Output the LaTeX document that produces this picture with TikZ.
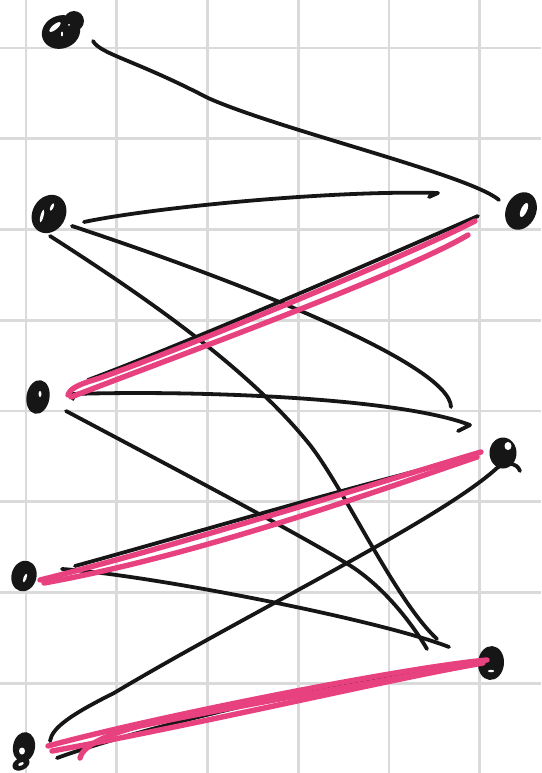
\documentclass[tikz,border=0pt]{standalone}
\definecolor{ink}{HTML}{161616}
\definecolor{marker}{HTML}{E8417F}
\definecolor{paperline}{HTML}{DADADA}
\usepackage{tikz}
\usetikzlibrary{shapes.geometric,calc}
\tikzset{
  vertex/.style={
    ellipse, fill=ink, inner sep=0pt
  },
  hole/.style={
    ellipse, fill=white, inner sep=0pt
  },
  link/.style={draw=ink, line width=3.8pt, line cap=round, line join=round},
  match/.style={draw=marker, line width=5.4pt, line cap=round, line join=round},
  gridline/.style={draw=paperline, line width=2.6pt},
}

\begin{document}
\begin{tikzpicture}[x=1pt, y=-1pt]

  \useasboundingbox (0,0) rectangle (541,773);
  \fill[white] (0,0) rectangle (541,773);

  % squared paper
  \foreach \k in {0,...,5}
    \draw[gridline] ({26+90.75*\k},0) -- ({26+90.75*\k},773);
  \foreach \k in {0,...,8}
    \draw[gridline] (0,{48+90.75*\k}) -- (541,{48+90.75*\k});

  % left vertices
  \node[vertex, minimum width=39pt, minimum height=33pt, rotate=20] (l1) at (61,32) {};
  \fill[ink] (74,21) circle (10pt);
  \node[hole, minimum width=14pt, minimum height=5pt, rotate=40] (l1a) at (55,27) {};
  \node[hole, minimum width=2pt, minimum height=5pt] (l1b) at (62,34) {};
  \node[hole, minimum width=2pt, minimum height=2pt] (l1c) at (69,25) {};

  \node[vertex, minimum width=33pt, minimum height=40pt, rotate=-30] (l2) at (49,214) {};
  \node[hole, minimum width=3pt, minimum height=13pt, rotate=-15] (l2a) at (42,216) {};
  \node[hole, minimum width=3pt, minimum height=8pt, rotate=-25] (l2b) at (52,207) {};

  \node[vertex, minimum width=23pt, minimum height=34pt, rotate=-10] (l3) at (38,397) {};
  \node[hole, minimum width=3pt, minimum height=6pt] (l3a) at (40,394) {};

  \node[vertex, minimum width=25pt, minimum height=31pt, rotate=-15] (l4) at (24,576) {};
  \node[hole, minimum width=3pt, minimum height=9pt, rotate=-20] (l4a) at (25,578) {};

  \node[vertex, minimum width=22pt, minimum height=30pt, rotate=-10] (l5) at (24,747) {};
  \fill[ink, rotate around={25:(21,764)}] (21,764) ellipse [x radius=9, y radius=6];
  \node[hole, minimum width=6pt, minimum height=7pt] (l5a) at (22,751) {};
  \node[hole, minimum width=6pt, minimum height=3pt, rotate=25] (l5b) at (21,764) {};

  % right vertices
  \node[vertex, minimum width=30pt, minimum height=39pt, rotate=-25] (r1) at (521,211) {};
  \node[hole, minimum width=6pt, minimum height=15pt, rotate=-25] (r1a) at (524,210) {};

  \node[vertex, minimum width=27pt, minimum height=31pt] (r2) at (503,453) {};
  \node[hole, minimum width=7pt, minimum height=8pt] (r2a) at (508,446) {};

  \node[vertex, minimum width=26pt, minimum height=34pt, rotate=-5] (r3) at (491,663) {};
  \node[hole, minimum width=6pt, minimum height=2.5pt] (r3a) at (491,671) {};

  % black edges
  \draw[link] ($(l1)+(32,9)$) .. controls (100,54) and (135,60) .. (208,98)
    .. controls (280,130) and (470,175) .. ($(r1)+(-22,-11)$);
  \draw[link] ($(l2)+(35,8)$) .. controls (150,208) and (330,190) .. ($(r1)+(-83,-18)$)
    -- ++(-9,4);
  \draw[link] ($(l2)+(23,12)$) .. controls (250,285) and (450,365) .. ($(r2)+(-52,-46)$);
  \draw[link] ($(l2)+(1,22)$) .. controls (150,300) and (250,370) .. (310,445)
    .. controls (345,490) and (395,600) .. ($(r3)+(-54,-24)$);
  \draw[link] ($(l3)+(50,-17)$) .. controls (200,338) and (400,250) .. ($(r1)+(-43,5)$);
  \draw[link] ($(l3)+(35,2)$) -- ++(-1,-5) .. controls (200,390) and (400,398)
    .. ($(r2)+(-33,-28)$) -- ++(-12,6);
  \draw[link] ($(l3)+(28,14)$) .. controls (200,482) and (300,535) .. (346,563)
    .. controls (380,583) and (410,620) .. ($(r3)+(-64,-14)$);
  \draw[link] ($(l4)+(51,-10)$) .. controls (170,540) and (380,478) .. ($(r2)+(-33,5)$);
  \draw[link] ($(l4)+(38,-7)$) .. controls (150,575) and (380,620) .. ($(r3)+(-42,-16)$);
  \draw[link] ($(l5)+(26,-6)$) .. controls (52,728) and (70,715) .. (114,693)
    .. controls (250,612) and (440,520) .. (497,468)
    .. controls (505,462) and (517,462) .. ($(r2)+(17,18)$);
  \draw[link] ($(l5)+(33,11)$) .. controls (150,724) and (380,672) .. ($(r3)+(-21,0)$);

  % pink matching
  \draw[match] ($(l3)+(30,-2)$) .. controls (70,388) and (80,384) .. (100,378)
    .. controls (200,342) and (420,250) .. ($(r1)+(-46,10)$);
  \draw[match] ($(l3)+(33,0)$) .. controls (180,355) and (400,275) .. ($(r1)+(-53,24)$);
  \draw[match] ($(l4)+(16,4)$) .. controls (180,545) and (380,482) .. ($(r2)+(-22,-1)$);
  \draw[match] ($(l4)+(20,7)$) .. controls (200,555) and (380,490) .. ($(r2)+(-26,4)$);
  \draw[match] ($(l5)+(24,-1)$) .. controls (150,718) and (400,668) .. ($(r3)+(-4,-3)$);
  \draw[match] ($(l5)+(28,4)$) .. controls (200,724) and (400,677) .. ($(r3)+(-8,0)$);
  \draw[match] ($(l5)+(56,11)$) .. controls (82,748) and (100,736) .. (140,726)
    .. controls (250,703) and (400,678) .. ($(r3)+(-15,1)$);

\end{tikzpicture}
\end{document}
